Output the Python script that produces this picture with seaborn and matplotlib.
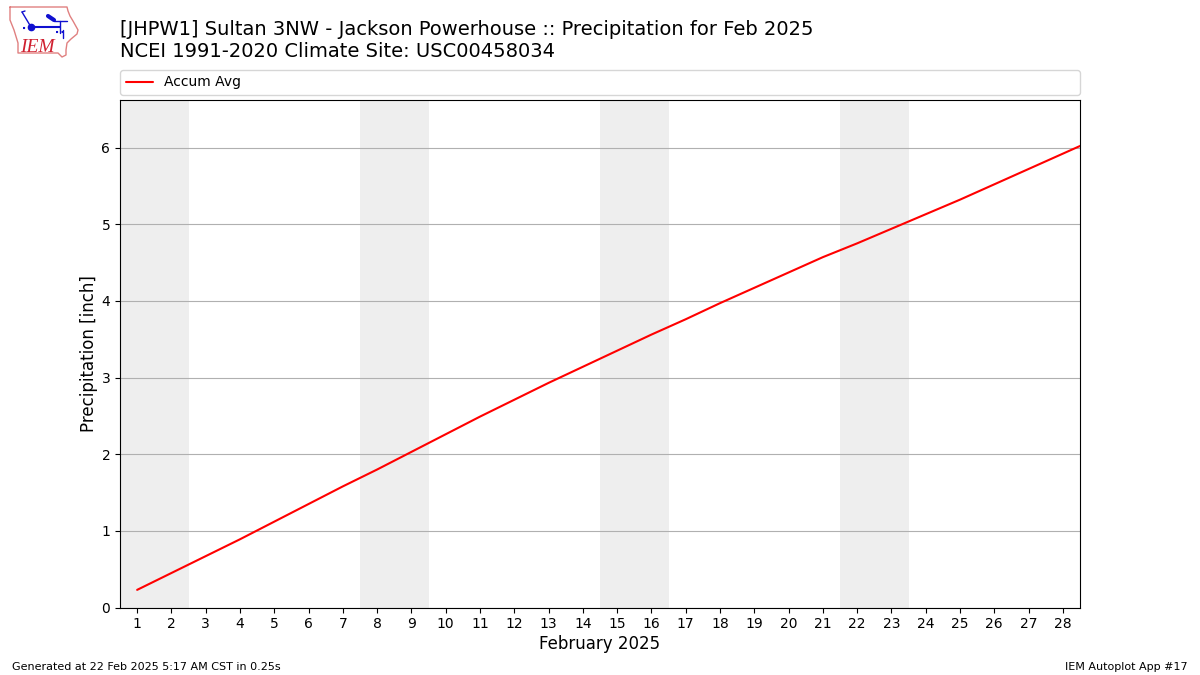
import seaborn as sns
import matplotlib.pyplot as plt
import pandas as pd

# Accumulated climatology
days = list(range(1, 30))
accum_avg = [0.23, 0.45, 0.67, 0.89, 1.12, 1.35, 1.58, 1.80, 2.03, 2.26,
             2.49, 2.71, 2.93, 3.14, 3.35, 3.56, 3.76, 3.97, 4.17, 4.37,
             4.57, 4.75, 4.94, 5.13, 5.32, 5.52, 5.72, 5.92, 6.12]
weekends = [(1, 2), (8, 9), (15, 16), (22, 23)]
tick_days = list(range(1, 29))

title_lines = "[JHPW1] Sultan 3NW - Jackson Powerhouse :: Precipitation for Feb 2025\nNCEI 1991-2020 Climate Site: USC00458034"

# Logo shapes, in figure pixels
iowa_x = [10, 67, 68, 70, 73, 78, 77, 71, 67, 66, 66, 62, 58, 18, 18, 14, 10, 10]
iowa_y = [7, 7, 11, 16, 21, 30, 34, 39, 43, 50, 55, 57, 53, 53, 43, 30, 20, 7]

data = pd.DataFrame({'day': days, 'precip': accum_avg})

sns.set_style('white')
plt.rcParams['font.family'] = ['DejaVu Sans']

fig = plt.figure(figsize=(12, 6.75), dpi=100)
ax = fig.add_axes([120 / 1200, 1 - 607.5 / 675, 960 / 1200, 507.5 / 675])

for start, end in weekends:
    ax.axvspan(start - 0.5, end + 0.5, color='#eeeeee', lw=0, zorder=0)

sns.lineplot(data=data, x='day', y='precip', color='red', linewidth=1.5, label='Accum Avg', ax=ax, zorder=3)

ax.set_xlim(0.5, 28.5)
ax.set_ylim(0, 6.62)
ax.set_xticks(tick_days)
ax.set_xticklabels([str(d) for d in tick_days])
ax.set_yticks(range(0, 7))
ax.tick_params(axis='both', labelsize=10, length=3.5, width=0.8, color='black', labelcolor='black', bottom=True, left=True)
ax.grid(axis='y', color='#b0b0b0', linewidth=0.8)
ax.grid(axis='x', visible=False)
ax.set_axisbelow(True)
for spine in ax.spines.values():
    spine.set_visible(True)
    spine.set_color('black')
    spine.set_linewidth(0.8)
ax.set_xlabel('February 2025', fontsize=12, color='black', labelpad=3)
ax.set_ylabel('Precipitation [inch]', fontsize=12, color='black', labelpad=2.5)

ax.legend(loc='lower left', bbox_to_anchor=(0, 1.01, 1, 0.05), mode='expand', ncol=1, fontsize=10,
          frameon=True, borderaxespad=0, labelcolor='black')

fig.text(120 / 1200, 1 - 61 / 675, title_lines, fontsize=14, color='black', ha='left', va='bottom')
fig.text(12 / 1200, 1 - 670 / 675, 'Generated at 22 Feb 2025 5:17 AM CST in 0.25s', fontsize=8, color='black')
fig.text(1188 / 1200, 1 - 670 / 675, 'IEM Autoplot App #17', fontsize=8, color='black', ha='right')

# Small IEM logo drawn over the top left corner
logo = fig.add_axes([0, 0, 1, 1], facecolor='none')
logo.set_xlim(0, 1200)
logo.set_ylim(675, 0)
logo.axis('off')
logo.plot(iowa_x, iowa_y, color='#e08080', linewidth=1)
logo.plot([31, 60], [27, 27], color='#1010d0', linewidth=1.5)
logo.plot([31], [27], marker='o', color='#1010d0', markersize=4.5)
logo.plot([22, 31], [12, 27], color='#1010d0', linewidth=1)
logo.plot([22, 25], [12, 11], color='#1010d0', linewidth=1)
logo.plot([48, 54], [16, 20], color='#1010d0', linewidth=3)
logo.plot([54, 67], [21, 21], color='#1010d0', linewidth=1)
logo.plot([60, 60], [21, 33], color='#1010d0', linewidth=1)
logo.plot([56, 64], [32, 32], color='#1010d0', linestyle=':', linewidth=1.5)
logo.plot([63, 63], [30, 38], color='#1010d0', linewidth=1)
logo.plot([23, 28], [28, 28], color='#1010d0', linestyle=':', linewidth=1.5)
logo.text(20, 52, 'IEM', color='#d02030', fontsize=14, family='Liberation Serif', style='italic')

fig.savefig('out.png', dpi=100)
